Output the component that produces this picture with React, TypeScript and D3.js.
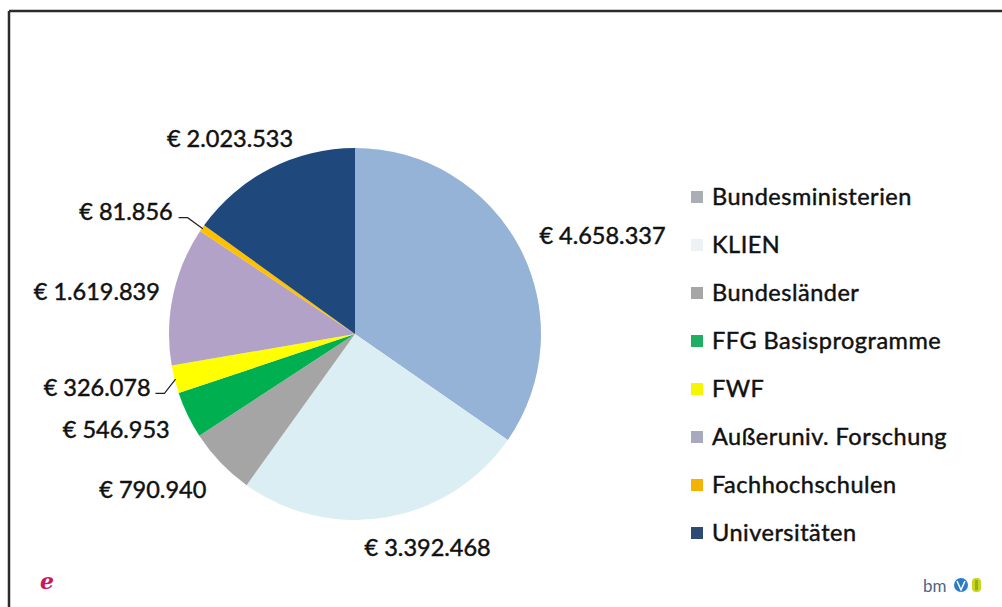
import React from "react";
import * as d3 from "d3";

const categories = [
  "Bundesministerien",
  "KLIEN",
  "Bundesländer",
  "FFG Basisprogramme",
  "FWF",
  "Außeruniv. Forschung",
  "Fachhochschulen",
  "Universitäten",
];
const values = [4658337, 3392468, 790940, 546953, 326078, 1619839, 81856, 2023533];
const valueLabels = [
  "€ 4.658.337",
  "€ 3.392.468",
  "€ 790.940",
  "€ 546.953",
  "€ 326.078",
  "€ 1.619.839",
  "€ 81.856",
  "€ 2.023.533",
];
const sliceColors = ["#95b3d7", "#dbeef4", "#a5a5a5", "#00b050", "#ffff00", "#b3a2c7", "#ffc000", "#1f497d"];
const legendColors = ["#a9adb4", "#eef1f4", "#a6a6a6", "#1fae62", "#f6f600", "#a9a9bd", "#f2b400", "#2f4a72"];
// label nudges relative to the automatic outside placement (styling only)
const labelNudge: [number, number][] = [
  [20, -3], [29, 11], [-25, 13], [-18, 6], [-20, 3], [-7, 0], [-32, -5], [-8, -12],
];
const leaderLines = [false, false, false, false, true, false, true, false];

const W = 1002;
const H = 607;
const CX = 355;
const CY = 334;
const R = 186;
const FONT = "Lato, 'Open Sans', sans-serif";

export default function App() {
  const pie = d3.pie<number>().sort(null).value((d) => d)(values);
  const arc = d3.arc<d3.PieArcDatum<number>>().innerRadius(0).outerRadius(R);

  const labels = pie.map((p, i) => {
    const a = (p.startAngle + p.endAngle) / 2;
    const s = Math.sin(a);
    const c = -Math.cos(a);
    const w = valueLabels[i].length * 11.4;
    const px = CX + (R + 8) * s;
    const py = CY + (R + 8) * c;
    const x = px + (s * w) / 2 + labelNudge[i][0];
    const y = py + c * 12 + labelNudge[i][1];
    const ex = CX + R * 0.995 * s;
    const ey = CY + R * 0.995 * c;
    return { x, y, w, ex, ey };
  });

  const legendY = d3.scaleLinear().domain([0, categories.length - 1]).range([197, 533]);

  const textStyle = {
    fontFamily: FONT,
    fontSize: 23.5,
    fill: "#111",
    stroke: "#111",
    strokeWidth: 0.45,
  } as const;

  return (
    <svg
      width={W}
      height={H}
      style={{ position: "fixed", left: 0, top: 0, background: "#fff" }}
    >
      <rect x={0} y={0} width={W} height={H} fill="#fff" />
      <line x1={9} y1={11} x2={9} y2={H} stroke="#2b2b2b" strokeWidth={2.5} />
      <line x1={9} y1={11} x2={W} y2={11} stroke="#2b2b2b" strokeWidth={2.5} />

      <g transform={`translate(${CX},${CY})`}>
        {pie.map((p, i) => (
          <path key={i} d={arc(p) || ""} fill={sliceColors[i]} />
        ))}
      </g>

      {labels.map((l, i) => (
        <g key={i}>
          <text x={l.x} y={l.y} dy="0.35em" textAnchor="middle" {...textStyle}>
            {valueLabels[i]}
          </text>
          {leaderLines[i] && (
            <polyline
              points={`${l.x + l.w / 2 + 7},${l.y + 6} ${l.x + l.w / 2 + 16},${l.y + 6} ${l.ex},${l.ey}`}
              fill="none"
              stroke="#222"
              strokeWidth={1.2}
            />
          )}
        </g>
      ))}

      {categories.map((c, i) => (
        <g key={c}>
          <rect x={691} y={legendY(i) - 6} width={12} height={12} fill={legendColors[i]} />
          <text x={712} y={legendY(i)} dy="0.35em" letterSpacing={0.5} {...textStyle}>
            {c}
          </text>
        </g>
      ))}

      {/* logos */}
      <text x={40} y={589} fontFamily="'DejaVu Serif', serif" fontStyle="italic" fontWeight="bold" fontSize={22} fill="#c8175d">
        e
      </text>
      <text x={923} y={592} fontFamily={FONT} fontSize={17} fill="#4f6480">
        bm
      </text>
      <circle cx={961} cy={585} r={7} fill="#2b7cc2" />
      <path d="M957,581 L961,590 L965,581" fill="none" stroke="#fff" strokeWidth={1.5} />
      <rect x={972} y={578} width={9} height={14} rx={4} fill="#c9d521" />
      <rect x={975} y={580} width={3} height={10} fill="#8fb21a" />
    </svg>
  );
}
